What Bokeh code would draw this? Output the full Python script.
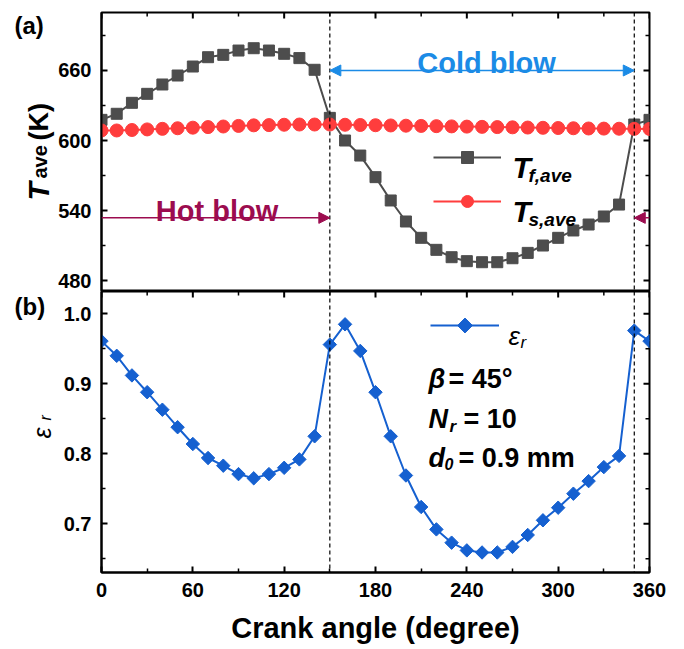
import numpy as np
from bokeh.plotting import figure
from bokeh.layouts import column, row
from bokeh.models import (LinearAxis, FixedTicker, Span, Label, Arrow, NormalHead,
                          Legend, LegendItem, PrintfTickFormatter, Range1d)
from bokeh.embed import file_html
from bokeh.resources import INLINE

# ---------------- data ----------------
crank_angle = list(range(0, 361, 10))
T_f_ave = [617.7, 622.9, 632.3, 640.0, 648.0, 655.7, 663.4, 671.4, 673.4, 677.1,
           679.1, 677.1, 674.3, 670.6, 660.6, 619.4, 600.0, 587.1, 568.6, 548.6,
           530.6, 516.6, 506.3, 500.0, 496.6, 495.7, 495.7, 499.1, 503.7, 510.0,
           516.6, 522.9, 528.0, 534.9, 545.1, 613.7, 617.7]
T_s_ave = [608.6, 608.6, 609.0, 609.5, 610.0, 610.5, 611.0, 611.5, 612.0, 612.5,
           613.0, 613.2, 613.5, 613.7, 613.7, 613.7, 613.5, 613.3, 613.1, 612.9,
           612.7, 612.5, 612.3, 612.1, 611.9, 611.7, 611.5, 611.3, 611.1, 610.9,
           610.7, 610.5, 610.3, 610.2, 610.1, 610.0, 609.9]
eps_r = [0.961, 0.940, 0.912, 0.888, 0.863, 0.838, 0.814, 0.794, 0.783, 0.771,
         0.765, 0.771, 0.780, 0.792, 0.825, 0.956, 0.985, 0.947, 0.888, 0.825,
         0.769, 0.724, 0.692, 0.673, 0.662, 0.659, 0.659, 0.667, 0.684, 0.705,
         0.723, 0.743, 0.761, 0.781, 0.797, 0.976, 0.961]

hot_blow = (0, 150)
hot_blow_tail = (360, 350)
cold_blow = (150, 350)
phase_switch = [150, 350]

x_ticks = [0, 60, 120, 180, 240, 300, 360]
x_minor = [30, 90, 150, 210, 270, 330]
t_ticks = [480, 540, 600, 660]
t_minor = [450, 510, 570, 630, 690]
e_ticks = [0.7, 0.8, 0.9, 1.0]
e_minor = [0.65, 0.75, 0.85, 0.95]

# ---------------- style ----------------
FONT = "Liberation Sans"
C_F = "#4D4D4D"
C_S = "#FF3D3D"
C_E = "#1560D0"
C_HOT = "#9C0C4F"
C_COLD = "#1B8BE6"

LAB_W = 55          # width of the strip that holds panel letters / y titles
FRAME_W = 548


def make_axis(ticks, minor, fmt=None):
    ax = LinearAxis(ticker=FixedTicker(ticks=ticks, minor_ticks=minor))
    ax.major_tick_in = 6
    ax.major_tick_out = 0
    ax.minor_tick_in = 4
    ax.minor_tick_out = 0
    ax.axis_line_width = 2
    ax.axis_line_color = "black"
    ax.major_tick_line_width = 2
    ax.minor_tick_line_width = 1.5
    ax.major_tick_line_color = "black"
    ax.minor_tick_line_color = "black"
    ax.major_label_text_font = FONT
    ax.major_label_text_font_style = "bold"
    ax.major_label_text_font_size = "20px"
    ax.major_label_text_color = "black"
    ax.major_label_standoff = 10
    if fmt is not None:
        ax.formatter = fmt
    return ax


def mirror_ticks(p, xr, yr, yt, ytm):
    # inward ticks on the top and right frame edges (half of each dash is clipped)
    p.scatter(x_ticks, [yr.end] * len(x_ticks), marker="dash", angle=np.pi / 2,
              size=12, line_color="black", line_width=2)
    p.scatter(x_minor, [yr.end] * len(x_minor), marker="dash", angle=np.pi / 2,
              size=8, line_color="black", line_width=1.5)
    p.scatter([xr.end] * len(yt), yt, marker="dash", size=12,
              line_color="black", line_width=2)
    p.scatter([xr.end] * len(ytm), ytm, marker="dash", size=8,
              line_color="black", line_width=1.5)


def txt(p, x, y, text, size, bold=True, italic=False, color="black",
        align="left", angle=0.0):
    if bold and italic:
        style = "bold italic"
    elif bold:
        style = "bold"
    elif italic:
        style = "italic"
    else:
        style = "normal"
    p.add_layout(Label(x=x, y=y, x_units="screen", y_units="screen", text=text,
                       text_font=FONT, text_font_size=f"{size}px",
                       text_font_style=style, text_color=color,
                       text_align=align, text_baseline="alphabetic",
                       angle=angle))


def base_fig(height, yr, top_border, bottom_border):
    p = figure(width=684 - LAB_W, height=height, x_range=Range1d(0, 360), y_range=yr,
               output_backend="svg", toolbar_location=None,
               x_axis_location=None, y_axis_location=None,
               min_border_left=101 - LAB_W, min_border_right=35,
               min_border_top=top_border, min_border_bottom=bottom_border)
    p.grid.grid_line_color = None
    p.outline_line_color = "black"
    p.outline_line_width = 2
    p.background_fill_color = "white"
    p.border_fill_color = "white"
    for s in phase_switch:
        p.add_layout(Span(location=s, dimension="height", line_color="black",
                          line_dash="4 3", line_width=1.2))
    return p


def label_strip(height):
    p = figure(width=LAB_W, height=height, x_range=Range1d(0, LAB_W),
               y_range=Range1d(0, height), output_backend="svg",
               toolbar_location=None, x_axis_location=None, y_axis_location=None,
               min_border=0)
    p.grid.grid_line_color = None
    p.outline_line_color = None
    p.background_fill_color = "white"
    p.border_fill_color = "white"
    return p


# ---------------- panel (a) ----------------
TOP_H = 291
top_yr = Range1d(470.6, 709.7)
top = base_fig(TOP_H, top_yr, 12, 0)
top.add_layout(make_axis(t_ticks, t_minor), "left")
mirror_ticks(top, top.x_range, top_yr, t_ticks, t_minor)

lf = top.line(crank_angle, T_f_ave, line_color=C_F, line_width=2)
sf = top.scatter(crank_angle, T_f_ave, marker="square", size=11,
                 fill_color=C_F, line_color=C_F)
ls = top.line(crank_angle, T_s_ave, line_color=C_S, line_width=2)
ss = top.scatter(crank_angle, T_s_ave, marker="circle", size=13,
                 fill_color=C_S, line_color=C_S)

leg_a = Legend(items=[LegendItem(label=" ", renderers=[lf, sf]),
                      LegendItem(label=" ", renderers=[ls, ss])],
               location=(332, 75), glyph_width=68, glyph_height=30,
               label_height=30, spacing=14, padding=0, margin=0,
               label_standoff=0, border_line_alpha=0, background_fill_alpha=0)
top.add_layout(leg_a)

txt(top, 411, 124, "T", 30, italic=True)
txt(top, 427, 116, "f,ave", 19, italic=True)
txt(top, 411, 80, "T", 30, italic=True)
txt(top, 427, 72, "s,ave", 19, italic=True)

head = dict(size=11)
top.add_layout(Arrow(x_start=hot_blow[0], y_start=533.7, x_end=hot_blow[1], y_end=533.7,
                     line_color=C_HOT, line_width=1.5,
                     end=NormalHead(fill_color=C_HOT, line_color=C_HOT, **head)))
top.add_layout(Arrow(x_start=hot_blow_tail[0], y_start=533.7, x_end=hot_blow_tail[1],
                     y_end=533.7, line_color=C_HOT, line_width=1.5,
                     end=NormalHead(fill_color=C_HOT, line_color=C_HOT, **head)))
top.add_layout(Arrow(x_start=cold_blow[0], y_start=660, x_end=cold_blow[1], y_end=660,
                     line_color=C_COLD, line_width=1.5,
                     start=NormalHead(fill_color=C_COLD, line_color=C_COLD, **head),
                     end=NormalHead(fill_color=C_COLD, line_color=C_COLD, **head)))
txt(top, 115.5, 81, "Hot blow", 29, color=C_HOT, align="center")
txt(top, 385, 229, "Cold blow", 29, color=C_COLD, align="center")

# label strip (a): its frame is aligned with the panel frame (page y 12..291)
lab_a = label_strip(TOP_H)
txt(lab_a, 14, 266, "(a)", 24)
txt(lab_a, 38, 91, "T", 30, italic=True, angle=np.pi / 2)
txt(lab_a, 39, 113, "ave", 20, angle=np.pi / 2)
txt(lab_a, 38, 151, "(K)", 27, angle=np.pi / 2)

# ---------------- panel (b) ----------------
BOT_H = 358
BOT_B = 77
bot_yr = Range1d(0.6304, 1.0319)
bot = base_fig(BOT_H, bot_yr, 0, BOT_B)
bot.add_layout(make_axis(e_ticks, e_minor, PrintfTickFormatter(format="%.1f")), "left")
xb = make_axis(x_ticks, x_minor)
xb.axis_label = "Crank angle (degree)"
xb.axis_label_text_font = FONT
xb.axis_label_text_font_style = "bold"
xb.axis_label_text_font_size = "29px"
xb.axis_label_text_color = "black"
xb.axis_label_standoff = 12
bot.add_layout(xb, "below")
mirror_ticks(bot, bot.x_range, bot_yr, e_ticks, e_minor)

le = bot.line(crank_angle, eps_r, line_color=C_E, line_width=2)
se = bot.scatter(crank_angle, eps_r, marker="square", angle=np.pi / 4, size=9.5,
                 fill_color=C_E, line_color=C_E)

LEG_B_X, LEG_B_Y, LEG_B_W, LEG_B_H = 329, 232, 69, 30
leg_b = Legend(items=[LegendItem(label=" ", renderers=[le])],
               location=(LEG_B_X, LEG_B_Y), glyph_width=LEG_B_W, glyph_height=LEG_B_H,
               label_height=LEG_B_H, padding=0, margin=0, label_standoff=0,
               border_line_alpha=0, background_fill_alpha=0)
bot.add_layout(leg_b)
# legend key marker (rotated square) placed at the centre of the legend glyph box
frame_h = BOT_H - BOT_B
key_x = bot.x_range.start + (LEG_B_X + LEG_B_W / 2) / FRAME_W * (bot.x_range.end - bot.x_range.start)
key_y = bot_yr.start + (LEG_B_Y + LEG_B_H / 2) / frame_h * (bot_yr.end - bot_yr.start)
bot.scatter([key_x], [key_y], marker="square", angle=np.pi / 4, size=10.5,
            fill_color=C_E, line_color=C_E)

txt(bot, 407, 237, "ε", 26, bold=False, italic=True)
txt(bot, 419, 230, "r", 17, bold=False, italic=True)
txt(bot, 327, 194, "β", 27, italic=True)
txt(bot, 347, 194, "= 45°", 27)
txt(bot, 327, 154, "N", 27, italic=True)
txt(bot, 348, 146, "r", 17, italic=True)
txt(bot, 362, 154, "= 10", 27)
txt(bot, 327, 115, "d", 27, italic=True)
txt(bot, 343, 109, "0", 16, italic=True)
txt(bot, 357, 115, "= 0.9 mm", 27)

# label strip (b): its frame is aligned with the panel frame (page y 291..572)
lab_b = label_strip(BOT_H)
txt(lab_b, 14, 266, "(b)", 24)
txt(lab_b, 41, 134, "ε", 25, bold=False, italic=True, angle=np.pi / 2)
txt(lab_b, 45, 152, "r", 16, bold=False, italic=True, angle=np.pi / 2)

layout = column(row(lab_a, top, spacing=0), row(lab_b, bot, spacing=0), spacing=0)
open("out.html", "w").write(file_html(layout, INLINE))
